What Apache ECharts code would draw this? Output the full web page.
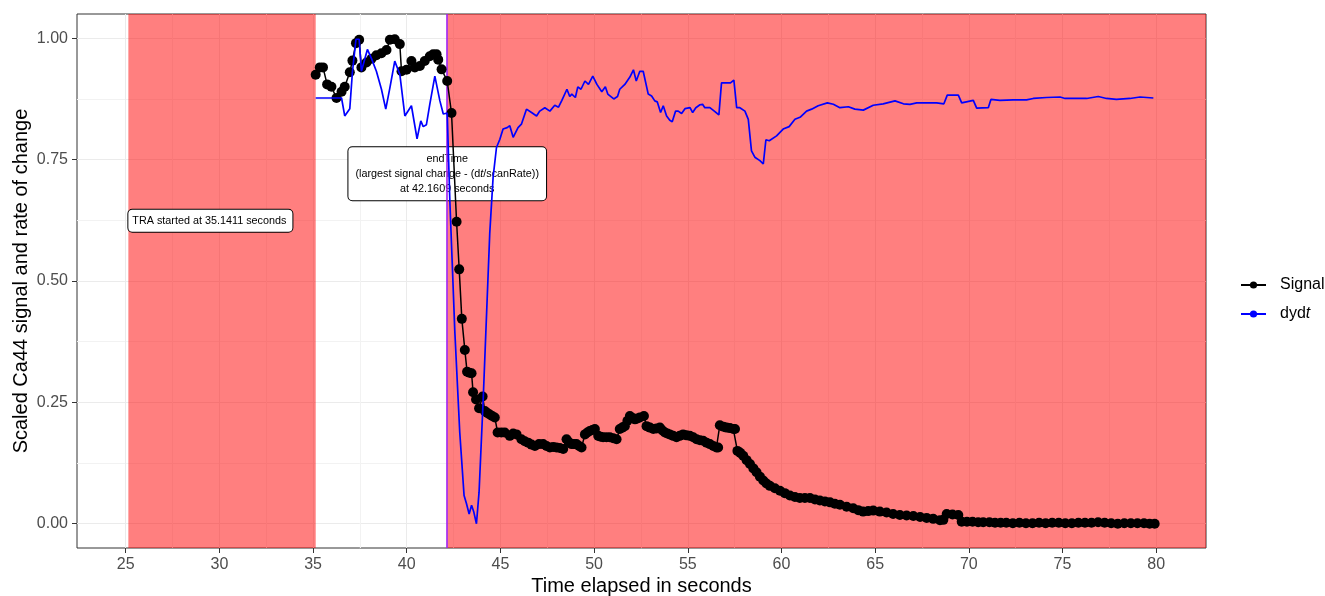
<!DOCTYPE html>
<html><head><meta charset="utf-8">
<script src="https://cdn.jsdelivr.net/npm/echarts@6/dist/echarts.min.js"></script>
<style>html,body{margin:0;padding:0;background:#fff}#c{width:1325px;height:596px}</style>
</head><body><div id="c"></div>
<script>
const xTicks = [25,30,35,40,45,50,55,60,65,70,75,80];
const xMinorTicks = [27.5,32.5,37.5,42.5,47.5,52.5,57.5,62.5,67.5,72.5,77.5];
const yTicks = [0,0.25,0.5,0.75,1];
const yMinorTicks = [0.125,0.375,0.625,0.875];

const bgStart = 25.1411;
const traStart = 35.1411;
const endTime = 42.1609;

const signalTime = [35.14,35.36,35.53,35.75,35.98,36.25,36.52,36.69,36.96,37.10,37.29,37.46,37.58,37.85,38.12,38.38,38.65,38.92,39.10,39.36,39.63,39.72,39.99,40.25,40.43,40.70,40.96,41.23,41.41,41.59,41.68,41.86,42.16,42.39,42.66,42.80,42.94,43.10,43.22,43.34,43.46,43.54,43.70,43.86,44.05,44.17,44.30,44.43,44.56,44.70,44.85,45.05,45.23,45.50,45.68,45.86,46.12,46.30,46.48,46.66,46.84,47.06,47.28,47.46,47.64,47.82,47.99,48.17,48.35,48.53,48.66,48.80,48.93,49.06,49.20,49.33,49.51,49.64,49.77,49.91,50.04,50.22,50.35,50.48,50.66,50.84,51.02,51.20,51.37,51.50,51.64,51.78,51.91,52.05,52.18,52.31,52.44,52.66,52.80,52.98,53.16,53.33,53.51,53.65,53.78,53.91,54.04,54.22,54.40,54.57,54.75,54.93,55.11,55.29,55.47,55.65,55.82,56.00,56.18,56.36,56.53,56.62,56.71,56.90,57.07,57.25,57.43,57.52,57.65,57.80,57.96,58.14,58.32,58.50,58.67,58.85,59.03,59.20,59.38,59.65,59.92,60.18,60.45,60.72,60.98,61.25,61.52,61.79,62.05,62.32,62.59,62.85,63.12,63.48,63.83,64.10,64.36,64.63,64.90,65.25,65.61,65.96,66.32,66.68,67.04,67.40,67.75,68.10,68.46,68.64,68.82,69.13,69.44,69.62,69.90,70.20,70.50,70.77,71.10,71.40,71.70,72.00,72.35,72.70,73.05,73.40,73.75,74.10,74.45,74.80,75.15,75.50,75.85,76.20,76.55,76.90,77.25,77.60,77.95,78.30,78.65,79.00,79.35,79.65,79.92];
const signalValue = [0.925,0.940,0.940,0.905,0.900,0.877,0.890,0.900,0.930,0.954,0.990,0.997,0.940,0.950,0.958,0.965,0.969,0.976,0.997,0.998,0.988,0.932,0.935,0.953,0.940,0.943,0.953,0.963,0.967,0.967,0.956,0.936,0.912,0.846,0.622,0.524,0.422,0.358,0.313,0.311,0.310,0.271,0.256,0.238,0.262,0.232,0.228,0.225,0.222,0.219,0.188,0.188,0.188,0.181,0.186,0.184,0.174,0.170,0.167,0.163,0.160,0.164,0.164,0.160,0.157,0.158,0.157,0.156,0.154,0.174,0.168,0.164,0.164,0.164,0.160,0.157,0.184,0.188,0.191,0.193,0.195,0.181,0.179,0.178,0.178,0.178,0.176,0.174,0.195,0.198,0.201,0.212,0.222,0.218,0.215,0.217,0.219,0.222,0.201,0.198,0.195,0.196,0.198,0.192,0.188,0.186,0.184,0.181,0.178,0.181,0.184,0.182,0.181,0.178,0.174,0.172,0.171,0.167,0.164,0.160,0.157,0.157,0.203,0.200,0.198,0.197,0.195,0.195,0.150,0.146,0.140,0.131,0.123,0.114,0.106,0.097,0.089,0.083,0.078,0.073,0.068,0.063,0.058,0.055,0.053,0.053,0.053,0.050,0.048,0.046,0.044,0.041,0.039,0.035,0.032,0.028,0.025,0.026,0.027,0.025,0.023,0.020,0.018,0.017,0.016,0.014,0.012,0.010,0.007,0.008,0.020,0.019,0.018,0.004,0.004,0.004,0.003,0.003,0.003,0.002,0.002,0.002,0.001,0.002,0.001,0.001,0.002,0.001,0.002,0.002,0.001,0.001,0.002,0.002,0.002,0.003,0.002,0.001,0.000,0.001,0.001,0.001,0.001,0.000,0.000];

const dydtTime = [35.14,36.52,36.69,36.96,37.10,37.29,37.46,37.58,37.90,38.12,38.38,38.65,38.88,39.10,39.36,39.63,39.90,40.25,40.55,40.75,40.88,41.05,41.23,41.50,41.77,41.95,42.16,42.30,42.57,42.83,43.06,43.19,43.33,43.46,43.58,43.72,43.86,44.08,44.29,44.43,44.61,44.79,44.97,45.14,45.36,45.50,45.68,45.94,46.12,46.39,46.66,46.93,47.10,47.37,47.64,47.90,48.10,48.28,48.55,48.70,48.81,49.00,49.13,49.30,49.51,49.70,49.93,50.15,50.41,50.60,50.73,51.05,51.25,51.37,51.64,51.91,52.10,52.25,52.44,52.62,52.89,53.07,53.24,53.37,53.55,53.69,53.87,54.04,54.17,54.35,54.49,54.67,54.85,55.12,55.26,55.43,55.65,55.79,55.91,56.18,56.45,56.66,56.80,57.07,57.28,57.46,57.61,57.78,58.05,58.23,58.40,58.58,58.85,59.03,59.17,59.35,59.74,60.09,60.41,60.72,61.02,61.34,61.61,61.96,62.45,62.77,63.12,63.57,63.92,64.37,64.90,65.43,66.06,66.51,66.86,67.22,67.75,68.28,68.67,68.85,69.44,69.62,70.24,70.42,71.04,71.18,71.66,72.37,73.08,73.44,74.15,74.87,75.14,75.58,76.29,76.91,77.35,77.88,78.60,79.14,79.85];
const dydtValue = [0.877,0.877,0.840,0.855,0.930,0.998,0.998,0.932,0.977,0.958,0.932,0.895,0.854,0.898,0.953,0.926,0.840,0.861,0.793,0.830,0.818,0.822,0.864,0.922,0.871,0.844,0.846,0.666,0.393,0.188,0.058,0.041,0.020,0.038,0.024,0.000,0.065,0.256,0.461,0.598,0.714,0.775,0.792,0.813,0.816,0.820,0.796,0.816,0.823,0.854,0.847,0.840,0.850,0.857,0.850,0.862,0.858,0.872,0.895,0.880,0.885,0.878,0.900,0.895,0.912,0.905,0.922,0.905,0.890,0.900,0.885,0.875,0.880,0.895,0.905,0.920,0.935,0.912,0.932,0.932,0.885,0.881,0.871,0.869,0.847,0.861,0.840,0.831,0.828,0.850,0.850,0.845,0.855,0.857,0.847,0.857,0.863,0.864,0.857,0.857,0.849,0.842,0.908,0.908,0.908,0.914,0.857,0.857,0.850,0.833,0.768,0.755,0.748,0.741,0.791,0.789,0.799,0.813,0.818,0.833,0.838,0.850,0.854,0.861,0.867,0.864,0.857,0.859,0.854,0.852,0.862,0.865,0.871,0.865,0.864,0.867,0.867,0.867,0.865,0.883,0.883,0.867,0.872,0.856,0.857,0.874,0.872,0.873,0.873,0.876,0.878,0.879,0.876,0.876,0.876,0.880,0.876,0.874,0.876,0.879,0.877];

const FONT = '"Liberation Sans", Arial, sans-serif';
const xMin = 22.40, xMax = 82.66, yMin = -0.05, yMax = 1.05;

const signalData = signalTime.map((t, i) => [t, signalValue[i]]);
const dydtData = dydtTime.map((t, i) => [t, dydtValue[i]]);

const chart = echarts.init(document.getElementById('c'), null, {renderer: 'canvas'});
chart.setOption({
  animation: false,
  backgroundColor: '#ffffff',
  textStyle: {fontFamily: FONT},
  grid: {left: 77, right: 119, top: 14, bottom: 48, show: true, borderColor: '#333333', borderWidth: 1,
         backgroundColor: '#ffffff', containLabel: false, outerBoundsMode: 'none'},
  legend: {
    orient: 'vertical', left: 1235, top: 272, itemWidth: 25, itemHeight: 9, itemGap: 13,
    data: ['Signal', 'dydt'],
    textStyle: {fontSize: 16, color: '#000', fontFamily: FONT, padding: [0, 0, 0, 9],
      rich: {n: {fontSize: 16, color: '#000', fontFamily: FONT}, it: {fontSize: 16, color: '#000', fontStyle: 'italic', fontFamily: FONT}}},
    formatter: n => n === 'dydt' ? '{n|dyd}{it|t}' : n
  },
  xAxis: [
    {type: 'value', min: xMin, max: xMax, position: 'bottom',
     name: 'Time elapsed in seconds', nameLocation: 'middle', nameGap: 28, nameMoveOverlap: false,
     nameTextStyle: {fontSize: 20, color: '#000', fontFamily: FONT},
     axisLine: {show: false, onZero: false},
     axisTick: {show: true, customValues: xTicks, length: 5, lineStyle: {color: '#333333'}},
     axisLabel: {customValues: xTicks, color: '#4d4d4d', fontSize: 16, margin: 9, fontFamily: FONT},
     splitLine: {show: true, lineStyle: {color: '#ebebeb', width: 1}}},
    {type: 'value', min: xMin, max: xMax, position: 'top',
     axisLine: {show: false, onZero: false}, axisTick: {show: false, customValues: xMinorTicks},
     axisLabel: {show: false, customValues: xMinorTicks},
     splitLine: {show: true, lineStyle: {color: '#f2f2f2', width: 1}}}
  ],
  yAxis: [
    {type: 'value', min: yMin, max: yMax, position: 'left',
     name: 'Scaled Ca44 signal and rate of change', nameLocation: 'middle', nameGap: 46, nameMoveOverlap: false,
     nameTextStyle: {fontSize: 20, color: '#000', fontFamily: FONT},
     axisLine: {show: false, onZero: false},
     axisTick: {show: true, customValues: yTicks, length: 5, lineStyle: {color: '#333333'}},
     axisLabel: {customValues: yTicks, formatter: v => v.toFixed(2), color: '#4d4d4d', fontSize: 16, margin: 9, fontFamily: FONT},
     splitLine: {show: true, lineStyle: {color: '#ebebeb', width: 1}}},
    {type: 'value', min: yMin, max: yMax, position: 'right',
     axisLine: {show: false, onZero: false}, axisTick: {show: false, customValues: yMinorTicks},
     axisLabel: {show: false, customValues: yMinorTicks},
     splitLine: {show: true, lineStyle: {color: '#f2f2f2', width: 1}}}
  ],
  series: [
    {name: 'annotations', type: 'line', data: [], z: 1, silent: true,
     markArea: {silent: true, z: 1, itemStyle: {color: 'rgba(255,0,0,0.5)', borderWidth: 0},
       data: [[{xAxis: bgStart}, {xAxis: traStart}], [{xAxis: endTime}, {xAxis: xMax}]]},
     markPoint: {silent: true, z: 1.5, symbol: 'circle', symbolSize: 1, itemStyle: {color: 'rgba(0,0,0,0)'},
       data: [
         {coord: [bgStart, 0.624], label: {show: true, position: 'inside', align: 'left', verticalAlign: 'middle',
           formatter: 'TRA started at ' + traStart + ' seconds', fontSize: 10.8, color: '#000', fontFamily: FONT,
           backgroundColor: '#fff', borderColor: '#000', borderWidth: 1, borderRadius: 4, padding: [5, 6, 4, 4], lineHeight: 13}},
         {coord: [endTime, 0.721], label: {show: true, position: 'inside', align: 'center', verticalAlign: 'middle',
           formatter: '{n|endTime}\n{n|(largest signal change - (d}{it|t}{n|/scanRate))}\n{n|at ' + endTime + ' seconds}',
           fontSize: 10.8, color: '#000', fontFamily: FONT,
           rich: {n: {fontSize: 10.8, color: '#000', fontFamily: FONT, lineHeight: 15},
                  it: {fontSize: 10.8, color: '#000', fontStyle: 'italic', fontFamily: FONT, lineHeight: 15}},
           backgroundColor: '#fff', borderColor: '#000', borderWidth: 1, borderRadius: 4, padding: [4, 7, 4, 7]}}
       ]}},
    {name: 'endLine', type: 'line', data: [], z: 2, silent: true,
     markLine: {silent: true, z: 2.5, symbol: ['none', 'none'], label: {show: false},
       lineStyle: {color: '#A020F0', width: 1.6, type: 'solid'}, data: [{xAxis: endTime}]}},
    {name: 'Signal', type: 'line', data: signalData, z: 3,
     symbol: 'circle', symbolSize: 10, showSymbol: true,
     lineStyle: {color: '#000', width: 1.5}, itemStyle: {color: '#000'},
     emphasis: {disabled: true}},
    {name: 'dydt', type: 'line', data: dydtData, z: 4,
     symbol: 'circle', symbolSize: 9, showSymbol: false,
     lineStyle: {color: '#0000ff', width: 1.7}, itemStyle: {color: '#0000ff'},
     emphasis: {disabled: true}}
  ]
});
</script>
</body></html>
